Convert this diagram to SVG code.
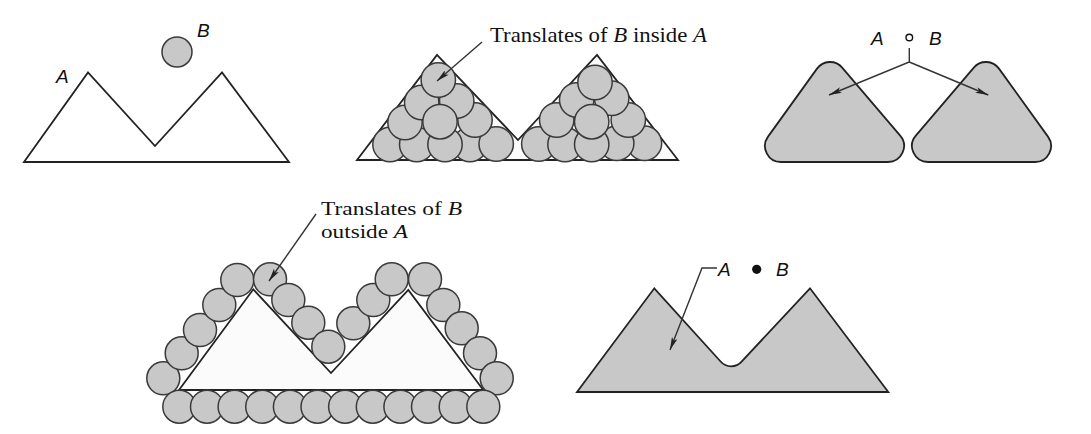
<svg xmlns="http://www.w3.org/2000/svg" width="1091" height="434" viewBox="0 0 1091 434">
<style>
.shape{stroke:#222;stroke-width:1.8;stroke-linejoin:miter}
.white{fill:#ffffff}
.light{fill:#fbfbfb}
.gray{fill:#c8c8c8}
.disc{fill:#c8c8c8;stroke:#3a3a3a;stroke-width:1.5}
.lab{font-family:"Liberation Sans",Arial,sans-serif;font-style:italic;font-size:19px;fill:#111}
.txt{font-family:"Liberation Serif","Times New Roman",serif;font-size:21px;fill:#111}
.txt2{font-family:"Liberation Serif","Times New Roman",serif;font-size:19.5px;fill:#111}
.it{font-style:italic}
.lead{fill:none;stroke:#333;stroke-width:1.4}
</style>
<defs>
<marker id="ah" viewBox="0 0 13 6" refX="13" refY="3" markerWidth="13" markerHeight="6" orient="auto" markerUnits="userSpaceOnUse">
<path d="M0,0 L13,3 L0,6 L3,3 Z" fill="#222"/>
</marker>
</defs>

<g id="panel1">
<polygon class="shape white" points="24,162 88,72.5 155,146 222,72.5 289,162"/>
<circle class="disc" cx="177" cy="52" r="15"/>
<text class="lab" x="56" y="83">A</text>
<text class="lab" x="197" y="37">B</text>
</g>

<g id="panel2">
<polygon class="shape light" points="357,160 437,55 518,140 597,55 678,160"/>
<g id="inside-left">
<circle class="disc" cx="390" cy="144.5" r="17.2"/>
<circle class="disc" cx="416.7" cy="144.5" r="17.2"/>
<circle class="disc" cx="470" cy="144.5" r="17.2"/>
<circle class="disc" cx="496.2" cy="144" r="17.2"/>
<circle class="disc" cx="445" cy="144.5" r="17.2"/>
<circle class="disc" cx="405" cy="122.5" r="17.2"/>
<circle class="disc" cx="475" cy="120" r="17.2"/>
<circle class="disc" cx="421.7" cy="102.5" r="17.2"/>
<circle class="disc" cx="456.7" cy="101" r="17.2"/>
<circle class="disc" cx="438.3" cy="80" r="17.2"/>
<circle class="disc" cx="440" cy="121.7" r="17.2"/>
</g>
<g id="inside-right">
<circle class="disc" cx="538.8" cy="144" r="17.2"/>
<circle class="disc" cx="565" cy="144.5" r="17.2"/>
<circle class="disc" cx="644.5" cy="143.3" r="17.2"/>
<circle class="disc" cx="616.7" cy="143.3" r="17.2"/>
<circle class="disc" cx="591.7" cy="144.5" r="17.2"/>
<circle class="disc" cx="556.7" cy="120" r="17.2"/>
<circle class="disc" cx="628.3" cy="120" r="17.2"/>
<circle class="disc" cx="576.7" cy="100" r="17.2"/>
<circle class="disc" cx="611.7" cy="98.3" r="17.2"/>
<circle class="disc" cx="595" cy="82.5" r="17.2"/>
<circle class="disc" cx="591.7" cy="121.7" r="17.2"/>
</g>
<text class="txt" x="490" y="42" textLength="217" lengthAdjust="spacingAndGlyphs">Translates of <tspan class="it">B</tspan> inside <tspan class="it">A</tspan></text>
</g>

<g id="panel3">
<path class="shape gray" d="M768.02,136.65 L817.02,68.65 A16,16 0 0 1 842.17,67.62 L900.17,135.62 A16,16 0 0 1 888,162 L781,162 A16,16 0 0 1 768.02,136.65 Z"/>
<path class="shape gray" d="M915.83,135.62 L973.83,67.62 A16,16 0 0 1 998.98,68.65 L1047.98,136.65 A16,16 0 0 1 1035,162 L928,162 A16,16 0 0 1 915.83,135.62 Z"/>
<text class="lab" x="871" y="45">A</text>
<circle cx="909.3" cy="37.5" r="3.3" fill="none" stroke="#111" stroke-width="1.4"/>
<text class="lab" x="929" y="45">B</text>
</g>

<g id="panel4">
<polygon class="shape light" points="179,390 253.3,289.3 331,373 408.3,290 483.3,390"/>
<g id="outside">
<circle class="disc" cx="163.3" cy="378.3" r="16.5"/>
<circle class="disc" cx="181.7" cy="353.3" r="16.5"/>
<circle class="disc" cx="200" cy="330" r="16.5"/>
<circle class="disc" cx="219.3" cy="305" r="16.5"/>
<circle class="disc" cx="237.3" cy="280" r="16.5"/>
<circle class="disc" cx="270" cy="279.3" r="16.5"/>
<circle class="disc" cx="288.3" cy="300" r="16.5"/>
<circle class="disc" cx="308.3" cy="322.7" r="16.5"/>
<circle class="disc" cx="353.3" cy="323.3" r="16.5"/>
<circle class="disc" cx="328.3" cy="346.7" r="16.5"/>
<circle class="disc" cx="373.3" cy="300" r="16.5"/>
<circle class="disc" cx="391.7" cy="279.3" r="16.5"/>
<circle class="disc" cx="425" cy="279.3" r="16.5"/>
<circle class="disc" cx="443.3" cy="305" r="16.5"/>
<circle class="disc" cx="461.7" cy="328.3" r="16.5"/>
<circle class="disc" cx="480" cy="353.3" r="16.5"/>
<circle class="disc" cx="496.7" cy="378.3" r="16.5"/>
<circle class="disc" cx="179.3" cy="406.7" r="16.5"/>
<circle class="disc" cx="207" cy="406.7" r="16.5"/>
<circle class="disc" cx="234.6" cy="406.7" r="16.5"/>
<circle class="disc" cx="262.2" cy="406.7" r="16.5"/>
<circle class="disc" cx="289.9" cy="406.7" r="16.5"/>
<circle class="disc" cx="317.5" cy="406.7" r="16.5"/>
<circle class="disc" cx="345.1" cy="406.7" r="16.5"/>
<circle class="disc" cx="372.8" cy="406.7" r="16.5"/>
<circle class="disc" cx="400.4" cy="406.7" r="16.5"/>
<circle class="disc" cx="428" cy="406.7" r="16.5"/>
<circle class="disc" cx="455.7" cy="406.7" r="16.5"/>
<circle class="disc" cx="483.3" cy="406.7" r="16.5"/>
</g>
<text class="txt2" x="321" y="215" textLength="141" lengthAdjust="spacingAndGlyphs">Translates of <tspan class="it">B</tspan></text>
<text class="txt2" x="321" y="237.5" textLength="87" lengthAdjust="spacingAndGlyphs">outside <tspan class="it">A</tspan></text>
</g>

<g id="panel5">
<path class="shape gray" d="M577,392 L654.3,288.3 L720.6,361.5 A14,14 0 0 0 741.6,361.6 L810,288.3 L888.3,392 Z"/>
<text class="lab" x="718" y="276">A</text>
<circle cx="756.7" cy="269.3" r="4.6" fill="#111"/>
<text class="lab" x="776" y="276">B</text>
</g>

<g id="connectors">
<line class="lead" x1="482" y1="42" x2="437" y2="81" marker-end="url(#ah)"/>
<polyline class="lead" points="909.3,48 909.3,62 829,95" marker-end="url(#ah)"/>
<polyline class="lead" points="909.3,62 988.3,95" marker-end="url(#ah)"/>
<line class="lead" x1="316" y1="214" x2="269" y2="281" marker-end="url(#ah)"/>
<polyline class="lead" points="717,268 702,268 670,350" marker-end="url(#ah)"/>
</g>
</svg>
